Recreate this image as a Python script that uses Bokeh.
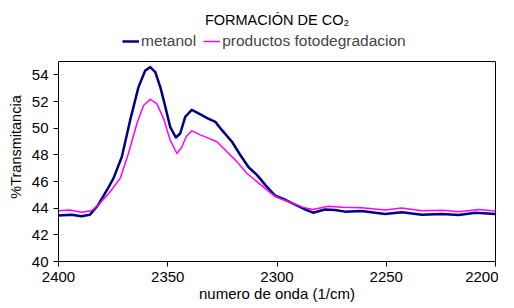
from bokeh.plotting import figure
from bokeh.models import Legend, LegendItem, FixedTicker, Range1d, LinearAxis, Span
from bokeh.embed import file_html
from bokeh.resources import INLINE

# wavenumber (1/cm) and %Transmitancia
x_metanol = [2400, 2394, 2389.5, 2385.7, 2382, 2377, 2374.8, 2371, 2367.2, 2363.4, 2360.3, 2358,
             2355.7, 2353.4, 2351.1, 2348.9, 2346.3, 2344.3, 2342, 2339, 2335.5, 2331.5, 2328.2,
             2325.2, 2320.6, 2316.8, 2313, 2309.2, 2305.4, 2300.8, 2296.2, 2290.9, 2287, 2283.5,
             2278.1, 2273.5, 2268.9, 2261.3, 2250.5, 2242.9, 2233.7, 2224.5, 2216.8, 2209.2, 2200]
y_metanol = [43.45, 43.5, 43.4, 43.5, 44.2, 45.6, 46.25, 47.86, 50.6, 53.08, 54.33, 54.58,
             54.2, 53.08, 51.6, 50.1, 49.3, 49.6, 50.85, 51.37, 51.07, 50.72, 50.47,
             49.85, 48.98, 47.99, 47.07, 46.5, 45.75, 44.93, 44.63, 44.2, 43.9, 43.66,
             43.9, 43.86, 43.74, 43.79, 43.56, 43.69, 43.51, 43.56, 43.49, 43.66, 43.56]

x_productos = [2400, 2394.8, 2389.5, 2385, 2382, 2377, 2371.7, 2368, 2364.1, 2361.1, 2358,
               2355, 2351.9, 2348.9, 2345.8, 2343.5, 2341.6, 2339, 2335.1, 2331.4, 2327.5,
               2322.9, 2318.4, 2313.8, 2309.2, 2304.6, 2300.8, 2296.2, 2290.9, 2288, 2283.5,
               2276.6, 2270.4, 2261.3, 2250.5, 2242.9, 2233.7, 2224.5, 2216.8, 2207.7, 2200]
y_productos = [43.8, 43.86, 43.7, 43.8, 44.2, 45.1, 46.25, 48.1, 50.35, 51.7, 52.16,
               51.84, 50.72, 49.1, 48.1, 48.6, 49.35, 49.8, 49.5, 49.25, 48.98,
               48.23, 47.49, 46.62, 45.99, 45.37, 44.87, 44.57, 44.25, 44.06, 43.9,
               44.15, 44.06, 44.04, 43.86, 44.01, 43.81, 43.84, 43.74, 43.9, 43.79]

x_ticks = [2400, 2350, 2300, 2250, 2200]
y_ticks = [40, 42, 44, 46, 48, 50, 52, 54]
y_min, y_max = 40, 55

FONT = "Liberation Sans"
FS = "15px"

FRAME_H = 229      # frame includes a strip above the plot box for the legend
BOX_H = 200        # pixel height of the plot box (40..55)
y_top = y_min + (y_max - y_min) * FRAME_H / BOX_H

p = figure(frame_width=437, frame_height=FRAME_H, output_backend="svg", toolbar_location=None,
           x_range=Range1d(2400, 2200), y_range=Range1d(y_min, y_top),
           title="FORMACIÓN DE CO₂",
           min_border_left=58, min_border_right=3, min_border_top=32, min_border_bottom=40)

p.title.align = "center"
p.title.offset = -9
p.title.text_font = FONT
p.title.text_font_size = "14.5px"
p.title.text_font_style = "normal"
p.title.text_color = "black"

r1 = p.line(x_metanol, y_metanol, line_color="#000080", line_width=2.5, line_join="round")
r2 = p.line(x_productos, y_productos, line_color="#FF00FF", line_width=1.5, line_join="round")

legend = Legend(items=[LegendItem(label="metanol", renderers=[r1]),
                       LegendItem(label="productos fotodegradacion", renderers=[r2])],
                orientation="horizontal", location=(64, 211),
                glyph_width=17, glyph_height=12, label_standoff=2, spacing=7,
                padding=0, margin=0, border_line_alpha=0, background_fill_alpha=0,
                label_text_font=FONT, label_text_font_size="15.5px", label_height=14)
p.add_layout(legend, "center")

p.xgrid.visible = False
p.ygrid.visible = False
p.outline_line_color = None

# top edge of plot box
p.add_layout(Span(location=y_max, dimension="width", line_color="black", line_width=1))
# right edge of plot box
right_axis = LinearAxis(bounds=(y_min, y_max), ticker=FixedTicker(ticks=[]),
                        major_tick_line_color=None, minor_tick_line_color=None,
                        axis_line_color="black")
p.add_layout(right_axis, "right")

for ax in (p.xaxis[0], p.yaxis[0]):
    ax.major_label_text_font = FONT
    ax.major_label_text_font_size = FS
    ax.major_label_text_color = "black"
    ax.axis_label_text_font = FONT
    ax.axis_label_text_font_size = FS
    ax.axis_label_text_font_style = "normal"
    ax.axis_label_text_color = "black"
    ax.axis_line_color = "black"
    ax.major_tick_line_color = "black"
    ax.major_tick_in = 0
    ax.major_tick_out = 5
    ax.minor_tick_line_color = None

p.yaxis[0].bounds = (y_min, y_max)
p.yaxis[0].axis_label_text_font_size = "14.5px"
p.xaxis[0].ticker = FixedTicker(ticks=x_ticks)
p.yaxis[0].ticker = FixedTicker(ticks=y_ticks)
p.xaxis[0].axis_label = "numero de onda (1/cm)"
p.yaxis[0].axis_label = "%Transmitancia"
p.xaxis[0].major_label_standoff = 5
p.xaxis[0].axis_label_standoff = 0
p.yaxis[0].major_label_standoff = 5
p.yaxis[0].axis_label_standoff = 5

open("out.html", "w").write(file_html(p, INLINE))
